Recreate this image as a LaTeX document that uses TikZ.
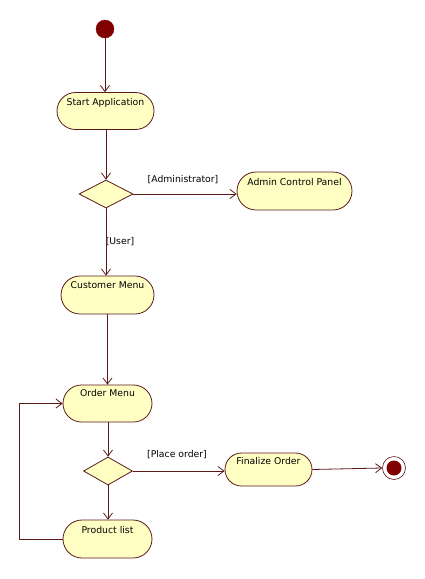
\documentclass[tikz,border=0pt]{standalone}
\usepackage{fontspec}
\setmainfont{DejaVu Sans}
\usetikzlibrary{shapes.misc,shapes.geometric,arrows.meta}
\definecolor{ln}{HTML}{5A1A1A}
\definecolor{bx}{HTML}{FFFFC4}
\definecolor{dot}{HTML}{800000}
\begin{document}
\begin{tikzpicture}[x=1pt,y=-1pt,
  font=\fontsize{9.3}{11}\selectfont,
  act/.style={rounded rectangle, draw=ln, fill=bx, line width=0.8pt, inner sep=0pt},
  dec/.style={diamond, draw=ln, fill=bx, line width=0.8pt, inner sep=0pt, aspect=1.9},
  flow/.style={draw=ln, line width=0.8pt, -{Straight Barb[length=6pt,width=9pt,line width=0.8pt]}},
  txt/.style={anchor=north, inner sep=0pt, text height=7pt, text depth=2pt}]
\useasboundingbox (0,0) rectangle (425,579);
\fill[white] (0,0) rectangle (425,579);
% start
\node[circle, fill=dot, draw=dot, minimum size=18pt, inner sep=0pt] (start) at (105,29) {};
% activities
\node[act, minimum width=97pt, minimum height=37pt] (sa) at (105.5,111) {};
\node[txt] at ([yshift=-6pt]sa.north) {Start Application};
\node[dec, minimum width=54pt, minimum height=28pt] (d1) at (106,194) {};
\node[act, minimum width=115pt, minimum height=38pt] (acp) at (294.5,191) {};
\node[txt] at ([yshift=-7pt]acp.north) {Admin Control Panel};
\node[act, minimum width=93pt, minimum height=38pt] (cm) at (107.5,295) {};
\node[txt] at ([yshift=-6pt]cm.north) {Customer Menu};
\node[act, minimum width=89pt, minimum height=37pt] (om) at (107.5,403.5) {};
\node[txt] at ([yshift=-5pt]om.north) {Order Menu};
\node[dec, minimum width=49pt, minimum height=28pt] (d2) at (108,471) {};
\node[act, minimum width=87pt, minimum height=33pt] (fo) at (268.5,469.5) {};
\node[txt] at ([yshift=-5pt]fo.north) {Finalize Order};
\node[act, minimum width=89pt, minimum height=38pt] (pl) at (107.5,539) {};
\node[txt] at ([yshift=-7pt]pl.north) {Product list};
% end
\node[circle, draw=ln, fill=white, line width=0.6pt, minimum size=23pt, inner sep=0pt] (end) at (394,468) {};
\fill[dot] (end.center) circle (7.5pt);
% guards
\node[anchor=center] (g1) at (183,180) {[Administrator]};
\node[anchor=center] (g2) at (120,242) {[User]};
\node[anchor=center] (g3) at (177,455) {[Place order]};
% connectors
\draw[flow] (start) -- (start |- sa.north);
\draw[flow] (sa.south -| d1.north) -- (d1.north);
\draw[flow] (d1.east) -- (d1.east -| acp.west);
\draw[flow] (d1.south) -- (d1.south |- cm.north);
\draw[flow] (cm.south) -- (om.north);
\draw[flow] (om.south -| d2.north) -- (d2.north);
\draw[flow] (d2.south) -- (d2.south |- pl.north);
\draw[flow] (d2.east) -- (d2.east -| fo.west);
\draw[flow] (fo.east) -- (end.west);
\draw[flow] (pl.west) -- ++(-43,0) |- (om.west);
\end{tikzpicture}
\end{document}
